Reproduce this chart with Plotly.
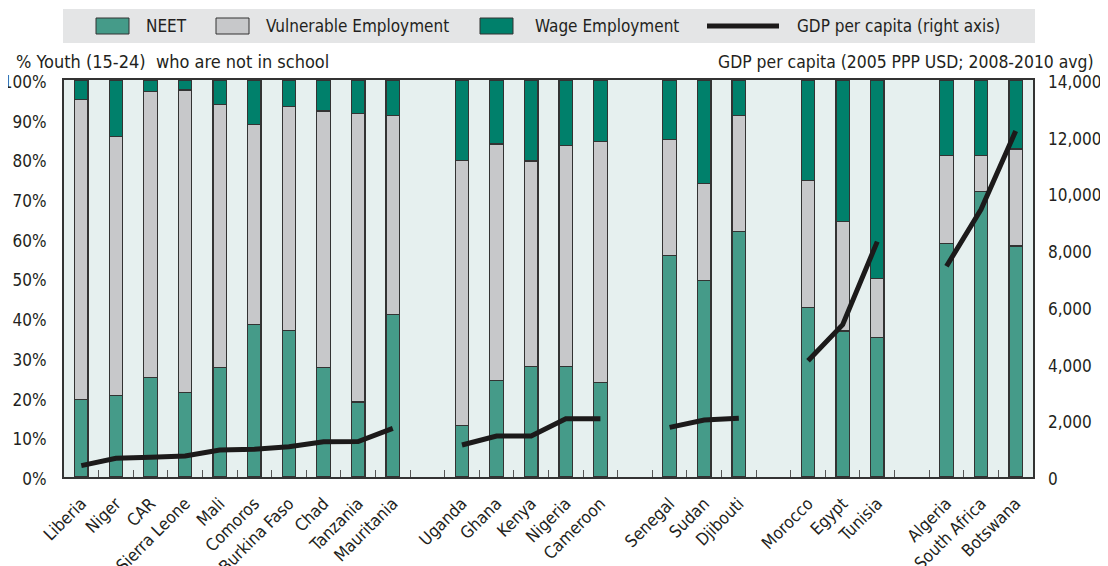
import plotly.graph_objects as go

# country groups (spacer slot between each group)
groups = [
    ["Liberia", "Niger", "CAR", "Sierra Leone", "Mali", "Comoros", "Burkina Faso",
     "Chad", "Tanzania", "Mauritania"],
    ["Uganda", "Ghana", "Kenya", "Nigeria", "Cameroon"],
    ["Senegal", "Sudan", "Djibouti"],
    ["Morocco", "Egypt", "Tunisia"],
    ["Algeria", "South Africa", "Botswana"],
]

neet = [19.6, 20.5, 25.0, 21.3, 27.5, 38.4, 36.9, 27.5, 18.9, 40.9,
        12.9, 24.4, 27.8, 27.8, 23.8,
        55.7, 49.5, 61.9,
        42.6, 36.8, 35.1,
        58.8, 72.0, 58.2]
vulnerable = [75.4, 65.2, 72.1, 76.2, 66.3, 50.4, 56.5, 64.7, 72.7, 50.1,
              66.9, 59.5, 51.8, 55.7, 60.8,
              29.4, 24.4, 29.1,
              32.0, 27.5, 14.9,
              22.2, 9.0, 24.4]
wage = [5.0, 14.3, 2.9, 2.5, 6.2, 11.2, 6.6, 7.8, 8.4, 9.0,
        20.2, 16.1, 20.4, 16.5, 15.4,
        14.9, 26.1, 9.0,
        25.4, 35.7, 50.0,
        19.0, 19.0, 17.4]
gdp = [400, 660, 695, 740, 950, 975, 1070, 1245, 1250, 1715,
       1130, 1445, 1450, 2055, 2055,
       1750, 2010, 2070,
       4100, 5370, 8300,
       7430, 9440, 12200]

C_NEET = "#459b89"
C_VUL = "#c7c8ca"
C_WAGE = "#00806b"
C_LINE = "#1c1a1a"
FONT = "DejaVu Sans Condensed, Roboto Condensed, sans-serif"
TXT = "#231f20"

# build category axis with empty spacer slots between groups
cats, labels = [], []
ny, vy, wy, gy = [], [], [], []
k = 0
for gi, g in enumerate(groups):
    if gi > 0:
        sp = " " * gi
        cats.append(sp)
        labels.append("")
        ny.append(None); vy.append(None); wy.append(None); gy.append(None)
    for name in g:
        cats.append(name)
        labels.append(name)
        ny.append(neet[k]); vy.append(vulnerable[k]); wy.append(wage[k]); gy.append(gdp[k])
        k += 1

edge = dict(color="#333333", width=1.2)
fig = go.Figure()
fig.add_trace(go.Bar(x=cats, y=ny, name="NEET", marker=dict(color=C_NEET, line=edge)))
fig.add_trace(go.Bar(x=cats, y=vy, name="Vulnerable Employment", marker=dict(color=C_VUL, line=edge)))
fig.add_trace(go.Bar(x=cats, y=wy, name="Wage Employment", marker=dict(color=C_WAGE, line=edge)))
fig.add_trace(go.Scatter(x=cats, y=gy, name="GDP per capita (right axis)", mode="lines",
                         line=dict(color=C_LINE, width=5), connectgaps=False, yaxis="y2"))

# figure sits inside the page's 8px body margin
OFF = 8
W, H = 1108 - OFF, 566 - OFF
L, R, T, B = 64 - OFF, 1033 - OFF, 80 - OFF, 477 - OFF


def px(x):
    # page pixel -> paper x
    return (x - OFF - L) / (R - L)


def py(y):
    # page pixel -> paper y
    return (B - (y - OFF)) / (B - T)


shapes = [dict(type="rect", xref="paper", yref="paper", x0=px(63), x1=px(1035), y0=py(43), y1=py(9),
               fillcolor="#e4e5e6", line=dict(width=0), layer="below")]
annos = []
leg = [("NEET", C_NEET, 96, 144), ("Vulnerable Employment", C_VUL, 216, 264),
       ("Wage Employment", C_WAGE, 480, 533)]
for name, col, sx, tx in leg:
    shapes.append(dict(type="rect", xref="paper", yref="paper", x0=px(sx), x1=px(sx + 33),
                       y0=py(34), y1=py(18), fillcolor=col, line=dict(color="#333333", width=1)))
    annos.append(dict(text=name, xref="paper", yref="paper", x=px(tx), y=py(26), xanchor="left",
                      yanchor="middle", showarrow=False, font=dict(size=17, color=TXT, family=FONT)))
shapes.append(dict(type="line", xref="paper", yref="paper", x0=px(707), x1=px(779), y0=py(26), y1=py(26),
                   line=dict(color=C_LINE, width=5)))
annos.append(dict(text="GDP per capita (right axis)", xref="paper", yref="paper", x=px(795), y=py(26),
                  xanchor="left", yanchor="middle", showarrow=False, font=dict(size=17, color=TXT, family=FONT)))
annos.append(dict(text="% Youth (15-24)  who are not in school", xref="paper", yref="paper", x=px(14),
                  y=py(62), xanchor="left", yanchor="middle", showarrow=False,
                  font=dict(size=18, color=TXT, family=FONT)))
annos.append(dict(text="GDP per capita (2005 PPP USD; 2008-2010 avg)", xref="paper", yref="paper",
                  x=px(1096), y=py(62), xanchor="right", yanchor="middle", showarrow=False,
                  font=dict(size=17.4, color=TXT, family=FONT)))

fig.update_layout(
    width=W, height=H,
    margin=dict(l=L, r=W - R, t=T, b=H - B, autoexpand=False),
    barmode="stack", bargap=0.61,
    showlegend=False,
    paper_bgcolor="white", plot_bgcolor="#e6f0ef",
    font=dict(family=FONT, size=17, color=TXT),
    shapes=shapes, annotations=annos,
    xaxis=dict(type="category", categoryorder="array", categoryarray=cats,
               tickvals=cats, ticktext=labels, tickangle=-45, automargin=False,
               tickson="boundaries", ticks="inside", ticklen=7, tickcolor="#555555",
               showline=True, linecolor="#333333", linewidth=2, mirror=True,
               showgrid=False, tickfont=dict(size=17), ticklabelstandoff=8),
    yaxis=dict(range=[0, 100], tickvals=list(range(0, 101, 10)),
               ticktext=[f"{v}%" for v in range(0, 101, 10)], automargin=False,
               showline=True, linecolor="#333333", linewidth=2, mirror=True,
               showgrid=False, zeroline=False, ticks="", ticklabelstandoff=12,
               ticklabelshift=2, tickfont=dict(size=17)),
    yaxis2=dict(range=[0, 14000], tickvals=list(range(0, 14001, 2000)), tickformat=",",
                overlaying="y", side="right", showgrid=False, zeroline=False, ticks="",
                automargin=False, ticklabelstandoff=14, ticklabelshift=2, tickfont=dict(size=17)),
)

fig.write_html("out.html")
